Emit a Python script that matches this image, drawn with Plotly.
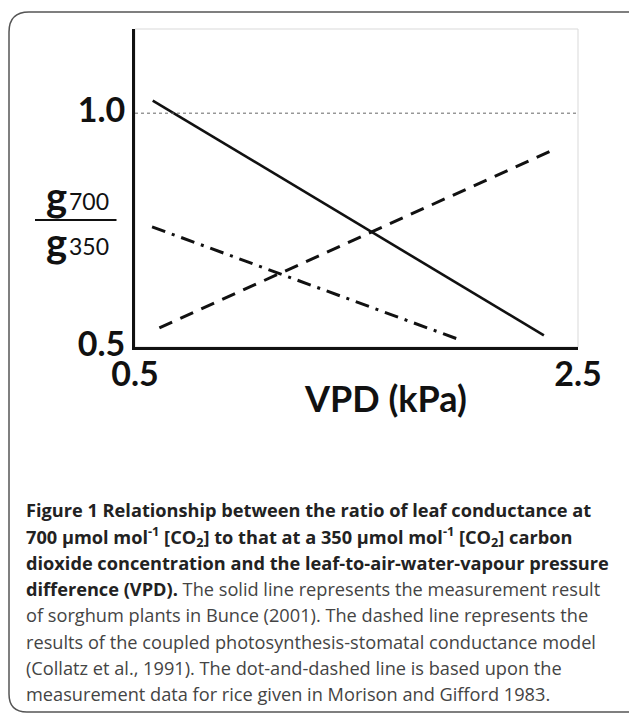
import plotly.graph_objects as go

# ---- data ----
solid_x = [0.58, 2.346]
solid_y = [1.027, 0.525]
dashed_x = [0.61, 2.405]
dashed_y = [0.541, 0.925]
dashdot_x = [0.577, 1.963]
dashdot_y = [0.757, 0.516]
ref_level = 1.0
x_ticks = [0.5, 2.5]
x_ticktext = ["0.5", "2.5"]
y_ticks = [0.5, 1.0]
y_ticktext = ["0.5", "1.0"]

caption_lines = [
    '<b>Figure 1 Relationship between the ratio of leaf conductance at</b>',
    '<b>700 µmol mol<sup>-1</sup> [CO<sub>2</sub>] to that at a 350 µmol mol<sup>-1</sup> [CO<sub>2</sub>] carbon</b>',
    '<b>dioxide concentration and the leaf-to-air-water-vapour pressure</b>',
    '<b>difference (VPD).</b><span style="color:#444"> The solid line represents the measurement result</span>',
    'of sorghum plants in Bunce (2001). The dashed line represents the',
    'results of the coupled photosynthesis-stomatal conductance model',
    '(Collatz et al., 1991). The dot-and-dashed line is based upon the',
    'measurement data for rice given in Morison and Gifford 1983.',
]

W, H = 629, 713
L, R, T, B = 135, 578, 29, 347


def px(x):
    return (x - L) / (R - L)


def py(y):
    return 1 - (y - T) / (B - T)


FONT = "Lato"
CAP_FONT = "Open Sans"

fig = go.Figure()
fig.add_trace(go.Scatter(x=solid_x, y=solid_y, mode="lines",
                         line=dict(color="#111", width=2.6), showlegend=False))
fig.add_trace(go.Scatter(x=dashed_x, y=dashed_y, mode="lines",
                         line=dict(color="#111", width=3, dash="14px,9px"), showlegend=False))
fig.add_trace(go.Scatter(x=dashdot_x, y=dashdot_y, mode="lines",
                         line=dict(color="#111", width=3, dash="14px,7px,3px,7px"), showlegend=False))

shapes = [
    dict(type="rect", xref="paper", yref="paper", x0=0, y0=0, x1=1, y1=1,
         line=dict(color="#d9d9d9", width=1), layer="below"),
    dict(type="line", xref="paper", yref="y", x0=0, x1=1, y0=ref_level, y1=ref_level,
         line=dict(color="#666", width=1, dash="3px,3px")),
    dict(type="line", xref="paper", yref="paper", x0=px(35), x1=px(116.5), y0=py(220), y1=py(220),
         line=dict(color="#111", width=2)),
]


def P(x, y):
    return f"{px(x)},{py(y)}"


frame_path = (f"M {P(640, 12)} L {P(29, 12)} Q {P(9, 12)} {P(9, 32)} "
              f"L {P(9, 694)} Q {P(9, 712)} {P(27, 712)} L {P(640, 712)}")
shapes.append(dict(type="path", xref="paper", yref="paper", path=frame_path,
                   line=dict(color="#555", width=1.5)))

annotations = []
for gy, sub, suby in [(196, "700", 201), (242, "350", 246)]:
    annotations.append(dict(xref="paper", yref="paper", x=px(56), y=py(gy), text="<b>g</b>",
                            showarrow=False, xanchor="center", yanchor="middle",
                            font=dict(family=FONT, size=40, color="#111")))
    annotations.append(dict(xref="paper", yref="paper", x=px(67), y=py(suby), text=sub,
                            showarrow=False, xanchor="left", yanchor="middle",
                            font=dict(family=FONT, size=23, color="#111")))
annotations.append(dict(xref="paper", yref="paper", x=px(385), y=py(398), text="<b>VPD (kPa)</b>",
                        showarrow=False, xanchor="center", yanchor="middle",
                        font=dict(family=FONT, size=36, color="#111")))
line_y = [510, 536, 562.5, 589, 615, 641.5, 668, 693.5]
for txt, yy in zip(caption_lines, line_y):
    bold = txt.startswith("<b>")
    annotations.append(dict(xref="paper", yref="paper", x=px(25), y=py(yy), text=txt,
                            showarrow=False, xanchor="left", yanchor="middle", align="left",
                            borderpad=0,
                            font=dict(family=CAP_FONT, size=18.2, color="#222" if bold else "#444")))

fig.update_layout(
    width=W, height=H, autosize=False,
    margin=dict(l=L, r=W - R, t=T, b=H - B, pad=0),
    paper_bgcolor="white", plot_bgcolor="white",
    shapes=shapes, annotations=annotations,
    xaxis=dict(range=[0.5, 2.5], tickvals=x_ticks, ticktext=x_ticktext, showgrid=False,
               zeroline=False, showline=True, linecolor="#111", linewidth=3, ticks="",
               ticklabelstandoff=-5,
               tickfont=dict(family=FONT, size=34, color="#111", weight="bold")),
    yaxis=dict(range=[0.5, 1.18], tickvals=y_ticks, ticktext=y_ticktext, showgrid=False,
               zeroline=False, showline=True, linecolor="#111", linewidth=3, ticks="",
               ticklabelstandoff=0, ticklabelshift=-3,
               tickfont=dict(family=FONT, size=34, color="#111", weight="bold")),
)

fig.write_html("out.html", config={"displayModeBar": False},
               post_script="document.body.style.margin='0';document.body.style.padding='0';")
